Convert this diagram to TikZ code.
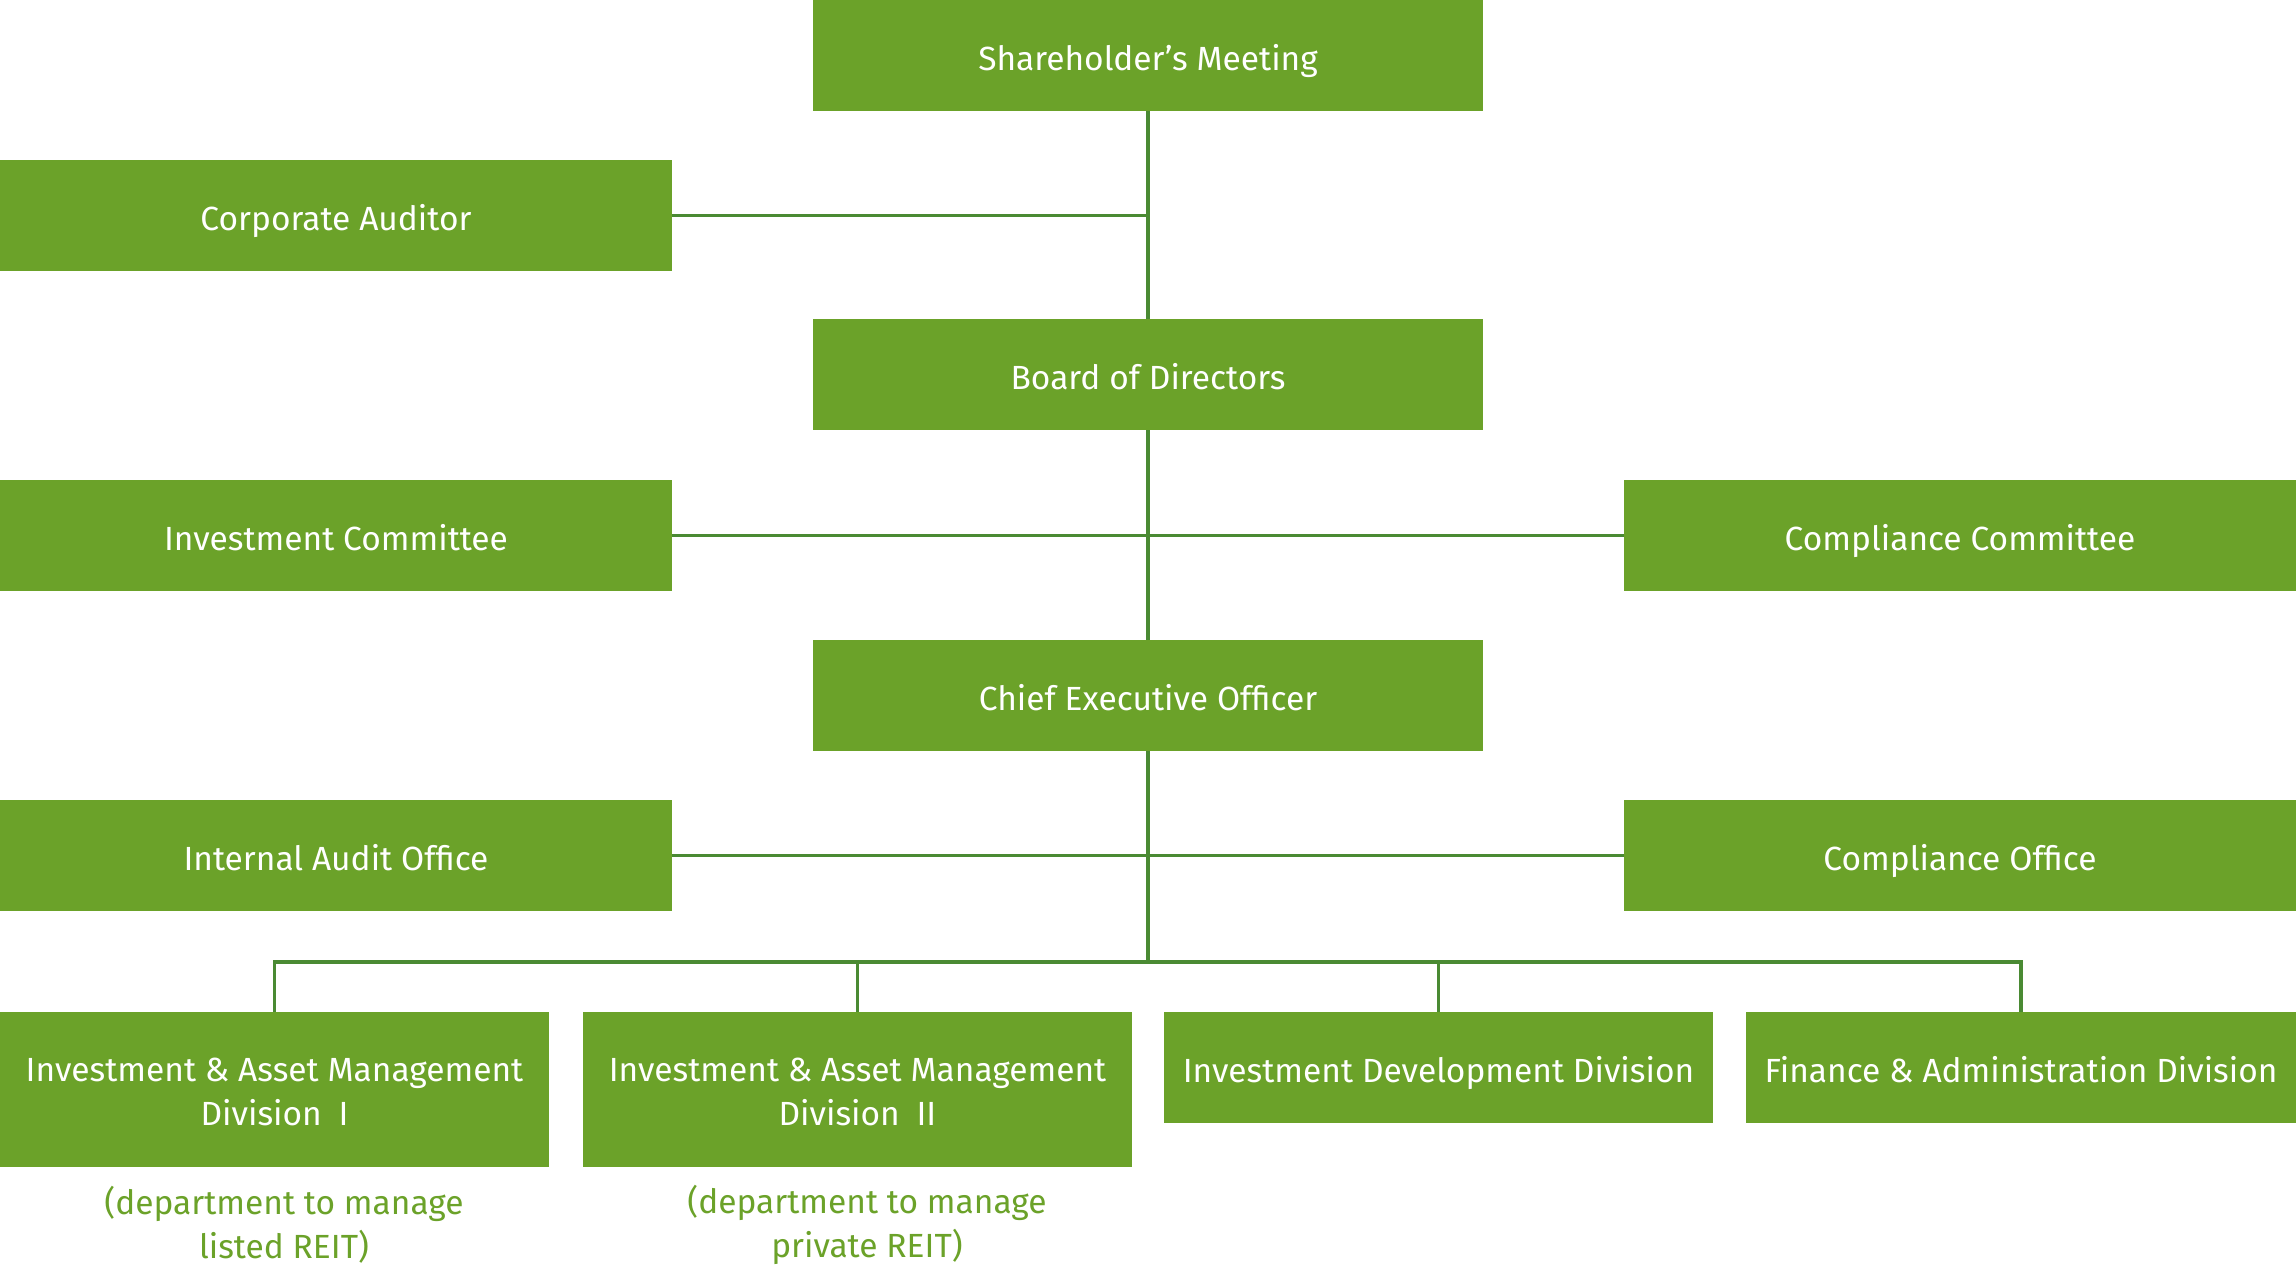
\documentclass[tikz,border=0pt]{standalone}
\usepackage{fontspec}
\setmainfont{Fira Sans}
\definecolor{boxgreen}{HTML}{6BA229}
\definecolor{linegreen}{HTML}{4A8A33}
\begin{document}
\begin{tikzpicture}[x=1pt,y=-1pt,
  box/.style={fill=boxgreen,text=white,inner sep=0pt,align=center,
    font=\fontsize{33.5}{44}\selectfont},
  one/.style={text height=35.5pt,text depth=6.4pt},
  two/.style={text height=77.4pt,text depth=6.4pt},
  wide/.style={box,one,minimum width=670pt,minimum height=111pt},
  side/.style={box,one,minimum width=672pt,minimum height=111pt},
  div/.style={box,minimum width=549pt},
  conn/.style={draw=linegreen,line width=3.2pt},
  note/.style={text=boxgreen,align=center,inner sep=0pt,font=\fontsize{33.5}{44}\selectfont}]
\useasboundingbox[fill=white] (0,0) rectangle (2296,1268);
\node[wide] (sh) at (1148,55.5) {Shareholder’s Meeting};
\node[side] (ca) at (336,215.5) {Corporate Auditor};
\node[wide] (bd) at (1148,374.5) {Board of Directors};
\node[side] (ic) at (336,535.5) {Investment Committee};
\node[side] (cc) at (1960,535.5) {Compliance Committee};
\node[wide] (ceo) at (1148,695.5) {Chief Executive Officer};
\node[side] (ia) at (336,855.5) {Internal Audit Office};
\node[side] (co) at (1960,855.5) {Compliance Office};
\node[div,two,minimum height=155pt] (d1) at (274.5,1089.5) {Investment \& Asset Management\\Division\hspace{0.5em}I};
\node[div,two,minimum height=155pt] (d2) at (857.5,1089.5) {Investment \& Asset Management\\Division\hspace{0.5em}II};
\node[div,one,minimum height=111pt] (d3) at (1438.5,1067.5) {Investment Development Division};
\node[div,one,minimum height=111pt,minimum width=550pt] (d4) at (2021,1067.5) {Finance \& Administration Division};
\node[note] (n1) at (284,1225) {(department to manage\\listed REIT)};
\node[note] (n2) at (867,1225) {(department to manage\\private REIT)};
\coordinate (bus) at (1148,962);
\draw[conn] (sh.south) -- (bd.north);
\draw[conn] (ca.east) -- (ca.east -| sh.south);
\draw[conn] (bd.south) -- (ceo.north);
\draw[conn] (ic.east) -- (cc.west);
\draw[conn] (ceo.south) -- (bus);
\draw[conn] (ia.east) -- (co.west);
\draw[conn] (d1.north) -- (d1.north |- bus) -- (d4.north |- bus) -- (d4.north);
\draw[conn] (d2.north) -- (d2.north |- bus);
\draw[conn] (d3.north) -- (d3.north |- bus);
\end{tikzpicture}
\end{document}
